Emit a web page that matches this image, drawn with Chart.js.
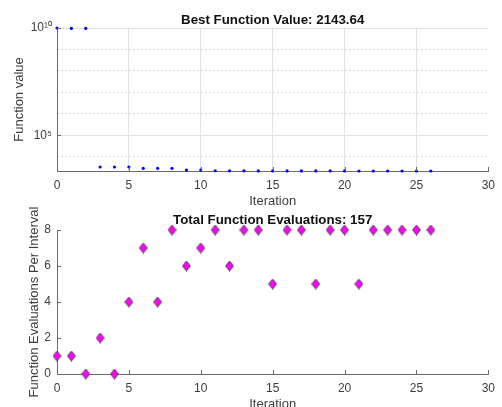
<!DOCTYPE html>
<html>
<head>
<meta charset="utf-8">
<script src="https://cdn.jsdelivr.net/npm/chart.js@4.4.0/dist/chart.umd.min.js"></script>
<style>
  html, body { margin: 0; padding: 0; background: #fff; width: 502px; height: 407px; overflow: hidden; }
  .box { position: absolute; left: 0; width: 502px; height: 212px; }
  #topBox { top: 0; }
  #bottomBox { top: 205px; }
</style>
</head>
<body>
<div class="box" id="topBox"><canvas id="bestValueChart"></canvas></div>
<div class="box" id="bottomBox"><canvas id="evalsChart"></canvas></div>
<script>
// data
const iterations = [0, 1, 2, 3, 4, 5, 6, 7, 8, 9, 10, 11, 12, 13, 14, 15, 16, 17, 18, 19, 20, 21, 22, 23, 24, 25, 26];
const bestValues = [1e10, 9.6e9, 9.6e9, 3300, 3300, 3300, 2860, 2860, 2860, 2380, 2380,
  2200, 2190, 2180, 2172, 2166, 2162, 2158, 2155, 2152, 2150, 2148, 2147, 2146, 2145, 2144, 2143.64];
const evalsPerInterval = [1, 1, 0, 2, 0, 4, 7, 4, 8, 6, 7, 8, 6, 8, 8, 5, 8, 8, 5, 8, 8, 5, 8, 8, 8, 8, 8];
const xTicks = [0, 5, 10, 15, 20, 25, 30];
const majorDecades = [1e5, 1e10];
const minorDecades = [1e4, 1e6, 1e7, 1e8, 1e9];
const majorDecadeLabels = { 100000: "10\u2075", 10000000000: "10\u00b9\u2070" };
const evalTicks = [0, 2, 4, 6, 8];

const axisColor = "#6a6a6a";
const textColor = "#3c3c3c";
const gridColor = "#e2e2e2";

Chart.defaults.font.family = "'Liberation Sans', Arial, sans-serif";
Chart.defaults.font.size = 12;
Chart.defaults.color = textColor;

// MATLAB style tick marks that point into the plot
const inwardTicks = {
  id: "inwardTicks",
  afterDraw(chart) {
    const { ctx, chartArea } = chart;
    const xs = chart.scales.x;
    const ys = chart.scales.y;
    ctx.save();
    ctx.strokeStyle = axisColor;
    ctx.lineWidth = 1;
    ctx.beginPath();
    xs.ticks.forEach((t) => {
      const px = Math.round(xs.getPixelForValue(t.value)) + 0.5;
      ctx.moveTo(px, chartArea.bottom);
      ctx.lineTo(px, chartArea.bottom - 4);
    });
    ys.ticks.forEach((t) => {
      const py = Math.round(ys.getPixelForValue(t.value)) + 0.5;
      ctx.moveTo(chartArea.left, py);
      ctx.lineTo(chartArea.left + 4, py);
    });
    ctx.stroke();
    ctx.restore();
  },
};

// diamond marker
const diamond = document.createElement("canvas");
diamond.width = 9;
diamond.height = 11;
const dctx = diamond.getContext("2d");
dctx.beginPath();
dctx.moveTo(4.5, 0.5);
dctx.lineTo(8.5, 5.5);
dctx.lineTo(4.5, 10.5);
dctx.lineTo(0.5, 5.5);
dctx.closePath();
dctx.fillStyle = "#ff00ff";
dctx.fill();
dctx.strokeStyle = "#4a4a4a";
dctx.lineWidth = 1;
dctx.stroke();

const xAxis = (height, titlePad, showGrid) => ({
  type: "linear",
  min: 0,
  max: 30,
  afterBuildTicks: (s) => { s.ticks = xTicks.map((v) => ({ value: v })); },
  afterFit: (s) => { s.height = height; },
  ticks: { padding: 7, autoSkip: false, maxRotation: 0, font: { size: 12 } },
  grid: {
    display: showGrid,
    drawTicks: false,
    color: (c) => (c.tick && (c.tick.value === 0 || c.tick.value === 30) ? "transparent" : gridColor),
  },
  border: { display: true, color: axisColor },
  title: { display: true, text: "Iteration", font: { size: 13 }, padding: { top: 0, bottom: titlePad } },
});

// title placed on an empty top axis so that it is centred over the plot area
const titleAxis = (text, height, pad) => ({
  type: "linear",
  position: "top",
  min: 0,
  max: 30,
  afterFit: (s) => { s.height = height; },
  ticks: { display: false },
  grid: { display: false, drawTicks: false },
  border: { display: false },
  title: {
    display: true,
    text: text,
    color: "#111",
    font: { size: 13.3, weight: "bold" },
    padding: { top: pad, bottom: 0 },
  },
});

new Chart(document.getElementById("bestValueChart").getContext("2d"), {
  type: "scatter",
  data: {
    datasets: [
      {
        label: "Best function value",
        data: iterations.map((it, i) => ({ x: it, y: bestValues[i] })),
        pointStyle: "circle",
        pointRadius: 1.6,
        pointBackgroundColor: "#0000ff",
        pointBorderWidth: 0,
        clip: false,
      },
    ],
  },
  options: {
    responsive: true,
    maintainAspectRatio: false,
    animation: false,
    layout: { padding: { left: 0, right: 5, top: 0, bottom: 0 } },
    scales: {
      x: xAxis(41, 3, true),
      xTitle: titleAxis("Best Function Value: 2143.64", 28, 12),
      y: {
        type: "logarithmic",
        position: "left",
        min: 2143.64,
        max: 1e10,
        bounds: "data",
        afterBuildTicks: (s) => { s.ticks = majorDecades.map((v) => ({ value: v })); },
        afterFit: (s) => { s.width = 57; },
        ticks: {
          padding: 5,
          autoSkip: false,
          font: { size: 12 },
          callback: (value) => majorDecadeLabels[value] || "",
        },
        grid: { drawTicks: false, color: gridColor },
        border: { display: true, color: axisColor },
        title: { display: true, text: "Function value", font: { size: 13 }, padding: { top: 12, bottom: 0 } },
      },
      yMinor: {
        type: "logarithmic",
        position: "left",
        min: 2143.64,
        max: 1e10,
        bounds: "data",
        afterBuildTicks: (s) => { s.ticks = minorDecades.map((v) => ({ value: v })); },
        afterFit: (s) => { s.width = 0; },
        ticks: { display: false },
        grid: { drawTicks: false, color: "#d6d6d6" },
        border: { display: false, dash: [2, 2] },
      },
    },
    plugins: {
      legend: { display: false },
      tooltip: { enabled: false },
    },
  },
  plugins: [inwardTicks],
});

new Chart(document.getElementById("evalsChart").getContext("2d"), {
  type: "scatter",
  data: {
    datasets: [
      {
        label: "Function evaluations per interval",
        data: iterations.map((it, i) => ({ x: it, y: evalsPerInterval[i] })),
        pointStyle: diamond,
        clip: false,
      },
    ],
  },
  options: {
    responsive: true,
    maintainAspectRatio: false,
    animation: false,
    layout: { padding: { left: 0, right: 5, top: 0, bottom: 0 } },
    scales: {
      x: xAxis(43, 5, false),
      xTitle: titleAxis("Total Function Evaluations: 157", 25, 7),
      y: {
        type: "linear",
        position: "left",
        min: 0,
        max: 8,
        afterBuildTicks: (s) => { s.ticks = evalTicks.map((v) => ({ value: v })); },
        afterFit: (s) => { s.width = 57; },
        ticks: { padding: 6, font: { size: 12 } },
        grid: { display: false, drawTicks: false },
        border: { display: true, color: axisColor },
        title: {
          display: true,
          text: "Function Evaluations Per Interval",
          font: { size: 13 },
          padding: { top: 27, bottom: 0 },
        },
      },
    },
    plugins: {
      legend: { display: false },
      tooltip: { enabled: false },
    },
  },
  plugins: [inwardTicks],
});
</script>
</body>
</html>
